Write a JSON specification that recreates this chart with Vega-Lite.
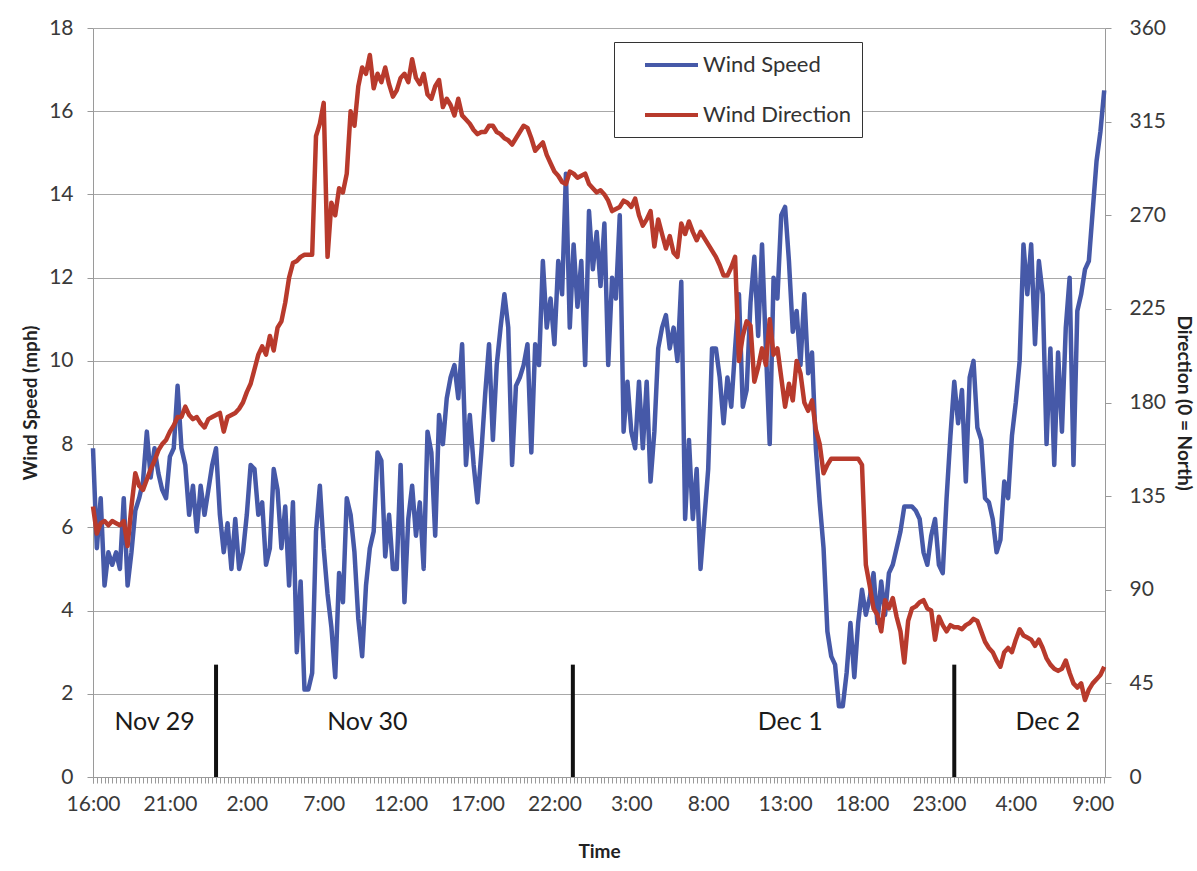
{
  "$schema": "https://vega.github.io/schema/vega-lite/v6.json",
  "width": 1012,
  "height": 749,
  "autosize": "none",
  "padding": {"left": 93, "top": 28, "right": 92, "bottom": 94},
  "background": "white",
  "config": {
    "font": "Lato",
    "view": {"stroke": null},
    "axis": {
      "labelFont": "Lato", "labelFontSize": 21, "labelColor": "#3a3a3a",
      "titleFont": "Lato", "titleFontWeight": "bold", "titleFontSize": 19, "titleColor": "#222222",
      "domainColor": "#9a9a9a", "tickColor": "#9a9a9a", "gridColor": "#a8a8a8",
      "domainWidth": 1, "tickWidth": 1, "gridWidth": 1
    },
    "legend": {
      "orient": "none", "legendX": 521, "legendY": 14,
      "strokeColor": "#333333", "fillColor": "white", "padding": 11,
      "labelFont": "Lato", "labelFontSize": 22, "labelColor": "#333333",
      "symbolStrokeWidth": 4, "symbolSize": 400, "symbolType": "M0.8,0H6.1",
      "labelOffset": 54, "rowPadding": 27
    }
  },
  "datasets": {
    "wind": [
{"time":"2009-11-29T16:00","speed":7.9,"direction":130},
{"time":"2009-11-29T16:15","speed":5.5,"direction":117},
{"time":"2009-11-29T16:30","speed":6.7,"direction":122},
{"time":"2009-11-29T16:45","speed":4.6,"direction":123},
{"time":"2009-11-29T17:00","speed":5.4,"direction":121},
{"time":"2009-11-29T17:15","speed":5.1,"direction":123},
{"time":"2009-11-29T17:30","speed":5.4,"direction":122},
{"time":"2009-11-29T17:45","speed":5.0,"direction":121},
{"time":"2009-11-29T18:00","speed":6.7,"direction":123},
{"time":"2009-11-29T18:15","speed":4.6,"direction":111},
{"time":"2009-11-29T18:30","speed":5.4,"direction":130},
{"time":"2009-11-29T18:45","speed":6.4,"direction":146},
{"time":"2009-11-29T19:00","speed":6.7,"direction":140},
{"time":"2009-11-29T19:15","speed":7.1,"direction":138},
{"time":"2009-11-29T19:30","speed":8.3,"direction":143},
{"time":"2009-11-29T19:45","speed":7.2,"direction":148},
{"time":"2009-11-29T20:00","speed":7.9,"direction":152},
{"time":"2009-11-29T20:15","speed":7.3,"direction":157},
{"time":"2009-11-29T20:30","speed":6.9,"direction":160},
{"time":"2009-11-29T20:45","speed":6.7,"direction":162},
{"time":"2009-11-29T21:00","speed":7.7,"direction":166},
{"time":"2009-11-29T21:15","speed":7.9,"direction":169},
{"time":"2009-11-29T21:30","speed":9.4,"direction":173},
{"time":"2009-11-29T21:45","speed":7.9,"direction":173},
{"time":"2009-11-29T22:00","speed":7.5,"direction":178},
{"time":"2009-11-29T22:15","speed":6.3,"direction":174},
{"time":"2009-11-29T22:30","speed":7.0,"direction":172},
{"time":"2009-11-29T22:45","speed":5.9,"direction":173},
{"time":"2009-11-29T23:00","speed":7.0,"direction":170},
{"time":"2009-11-29T23:15","speed":6.3,"direction":168},
{"time":"2009-11-29T23:30","speed":6.9,"direction":172},
{"time":"2009-11-29T23:45","speed":7.5,"direction":173},
{"time":"2009-11-30T00:00","speed":7.9,"direction":174},
{"time":"2009-11-30T00:15","speed":6.3,"direction":175},
{"time":"2009-11-30T00:30","speed":5.4,"direction":166},
{"time":"2009-11-30T00:45","speed":6.1,"direction":173},
{"time":"2009-11-30T01:00","speed":5.0,"direction":174},
{"time":"2009-11-30T01:15","speed":6.2,"direction":175},
{"time":"2009-11-30T01:30","speed":5.0,"direction":177},
{"time":"2009-11-30T01:45","speed":5.4,"direction":180},
{"time":"2009-11-30T02:00","speed":6.3,"direction":185},
{"time":"2009-11-30T02:15","speed":7.5,"direction":189},
{"time":"2009-11-30T02:30","speed":7.4,"direction":196},
{"time":"2009-11-30T02:45","speed":6.3,"direction":203},
{"time":"2009-11-30T03:00","speed":6.6,"direction":207},
{"time":"2009-11-30T03:15","speed":5.1,"direction":203},
{"time":"2009-11-30T03:30","speed":5.5,"direction":212},
{"time":"2009-11-30T03:45","speed":7.4,"direction":205},
{"time":"2009-11-30T04:00","speed":6.9,"direction":216},
{"time":"2009-11-30T04:15","speed":5.5,"direction":219},
{"time":"2009-11-30T04:30","speed":6.5,"direction":228},
{"time":"2009-11-30T04:45","speed":4.6,"direction":240},
{"time":"2009-11-30T05:00","speed":6.6,"direction":247},
{"time":"2009-11-30T05:15","speed":3.0,"direction":248},
{"time":"2009-11-30T05:30","speed":4.7,"direction":250},
{"time":"2009-11-30T05:45","speed":2.1,"direction":251},
{"time":"2009-11-30T06:00","speed":2.1,"direction":251},
{"time":"2009-11-30T06:15","speed":2.5,"direction":251},
{"time":"2009-11-30T06:30","speed":5.9,"direction":308},
{"time":"2009-11-30T06:45","speed":7.0,"direction":314},
{"time":"2009-11-30T07:00","speed":5.5,"direction":324},
{"time":"2009-11-30T07:15","speed":4.4,"direction":250},
{"time":"2009-11-30T07:30","speed":3.6,"direction":276},
{"time":"2009-11-30T07:45","speed":2.4,"direction":270},
{"time":"2009-11-30T08:00","speed":4.9,"direction":283},
{"time":"2009-11-30T08:15","speed":4.2,"direction":281},
{"time":"2009-11-30T08:30","speed":6.7,"direction":290},
{"time":"2009-11-30T08:45","speed":6.3,"direction":320},
{"time":"2009-11-30T09:00","speed":5.4,"direction":313},
{"time":"2009-11-30T09:15","speed":3.8,"direction":332},
{"time":"2009-11-30T09:30","speed":2.9,"direction":341},
{"time":"2009-11-30T09:45","speed":4.6,"direction":338},
{"time":"2009-11-30T10:00","speed":5.5,"direction":347},
{"time":"2009-11-30T10:15","speed":5.9,"direction":331},
{"time":"2009-11-30T10:30","speed":7.8,"direction":338},
{"time":"2009-11-30T10:45","speed":7.6,"direction":334},
{"time":"2009-11-30T11:00","speed":5.3,"direction":341},
{"time":"2009-11-30T11:15","speed":6.3,"direction":333},
{"time":"2009-11-30T11:30","speed":5.0,"direction":327},
{"time":"2009-11-30T11:45","speed":5.0,"direction":330},
{"time":"2009-11-30T12:00","speed":7.5,"direction":336},
{"time":"2009-11-30T12:15","speed":4.2,"direction":338},
{"time":"2009-11-30T12:30","speed":6.2,"direction":334},
{"time":"2009-11-30T12:45","speed":7.0,"direction":345},
{"time":"2009-11-30T13:00","speed":5.8,"direction":336},
{"time":"2009-11-30T13:15","speed":6.6,"direction":333},
{"time":"2009-11-30T13:30","speed":5.0,"direction":338},
{"time":"2009-11-30T13:45","speed":8.3,"direction":328},
{"time":"2009-11-30T14:00","speed":7.8,"direction":326},
{"time":"2009-11-30T14:15","speed":5.8,"direction":332},
{"time":"2009-11-30T14:30","speed":8.7,"direction":335},
{"time":"2009-11-30T14:45","speed":8.0,"direction":322},
{"time":"2009-11-30T15:00","speed":9.1,"direction":326},
{"time":"2009-11-30T15:15","speed":9.6,"direction":323},
{"time":"2009-11-30T15:30","speed":9.9,"direction":318},
{"time":"2009-11-30T15:45","speed":9.1,"direction":326},
{"time":"2009-11-30T16:00","speed":10.4,"direction":318},
{"time":"2009-11-30T16:15","speed":7.5,"direction":316},
{"time":"2009-11-30T16:30","speed":8.7,"direction":314},
{"time":"2009-11-30T16:45","speed":7.5,"direction":311},
{"time":"2009-11-30T17:00","speed":6.6,"direction":309},
{"time":"2009-11-30T17:15","speed":7.8,"direction":310},
{"time":"2009-11-30T17:30","speed":9.2,"direction":310},
{"time":"2009-11-30T17:45","speed":10.4,"direction":313},
{"time":"2009-11-30T18:00","speed":8.1,"direction":313},
{"time":"2009-11-30T18:15","speed":9.9,"direction":310},
{"time":"2009-11-30T18:30","speed":10.8,"direction":309},
{"time":"2009-11-30T18:45","speed":11.6,"direction":307},
{"time":"2009-11-30T19:00","speed":10.8,"direction":306},
{"time":"2009-11-30T19:15","speed":7.5,"direction":304},
{"time":"2009-11-30T19:30","speed":9.4,"direction":307},
{"time":"2009-11-30T19:45","speed":9.6,"direction":310},
{"time":"2009-11-30T20:00","speed":9.9,"direction":313},
{"time":"2009-11-30T20:15","speed":10.4,"direction":312},
{"time":"2009-11-30T20:30","speed":7.8,"direction":307},
{"time":"2009-11-30T20:45","speed":10.4,"direction":301},
{"time":"2009-11-30T21:00","speed":9.9,"direction":303},
{"time":"2009-11-30T21:15","speed":12.4,"direction":305},
{"time":"2009-11-30T21:30","speed":10.8,"direction":299},
{"time":"2009-11-30T21:45","speed":11.5,"direction":295},
{"time":"2009-11-30T22:00","speed":10.4,"direction":291},
{"time":"2009-11-30T22:15","speed":12.4,"direction":289},
{"time":"2009-11-30T22:30","speed":11.6,"direction":286},
{"time":"2009-11-30T22:45","speed":14.5,"direction":285},
{"time":"2009-11-30T23:00","speed":10.8,"direction":291},
{"time":"2009-11-30T23:15","speed":12.8,"direction":290},
{"time":"2009-11-30T23:30","speed":11.3,"direction":288},
{"time":"2009-11-30T23:45","speed":12.4,"direction":289},
{"time":"2009-12-01T00:00","speed":9.9,"direction":290},
{"time":"2009-12-01T00:15","speed":13.6,"direction":285},
{"time":"2009-12-01T00:30","speed":12.2,"direction":283},
{"time":"2009-12-01T00:45","speed":13.1,"direction":281},
{"time":"2009-12-01T01:00","speed":11.8,"direction":282},
{"time":"2009-12-01T01:15","speed":13.3,"direction":280},
{"time":"2009-12-01T01:30","speed":9.9,"direction":277},
{"time":"2009-12-01T01:45","speed":12.0,"direction":272},
{"time":"2009-12-01T02:00","speed":11.5,"direction":273},
{"time":"2009-12-01T02:15","speed":13.5,"direction":274},
{"time":"2009-12-01T02:30","speed":8.3,"direction":277},
{"time":"2009-12-01T02:45","speed":9.5,"direction":276},
{"time":"2009-12-01T03:00","speed":8.3,"direction":274},
{"time":"2009-12-01T03:15","speed":7.9,"direction":278},
{"time":"2009-12-01T03:30","speed":9.5,"direction":270},
{"time":"2009-12-01T03:45","speed":7.9,"direction":265},
{"time":"2009-12-01T04:00","speed":9.5,"direction":268},
{"time":"2009-12-01T04:15","speed":7.1,"direction":272},
{"time":"2009-12-01T04:30","speed":8.3,"direction":255},
{"time":"2009-12-01T04:45","speed":10.3,"direction":268},
{"time":"2009-12-01T05:00","speed":10.8,"direction":261},
{"time":"2009-12-01T05:15","speed":11.1,"direction":254},
{"time":"2009-12-01T05:30","speed":10.3,"direction":260},
{"time":"2009-12-01T05:45","speed":10.8,"direction":252},
{"time":"2009-12-01T06:00","speed":10.0,"direction":250},
{"time":"2009-12-01T06:15","speed":11.9,"direction":266},
{"time":"2009-12-01T06:30","speed":6.2,"direction":261},
{"time":"2009-12-01T06:45","speed":8.1,"direction":267},
{"time":"2009-12-01T07:00","speed":6.2,"direction":262},
{"time":"2009-12-01T07:15","speed":7.4,"direction":258},
{"time":"2009-12-01T07:30","speed":5.0,"direction":262},
{"time":"2009-12-01T07:45","speed":6.2,"direction":259},
{"time":"2009-12-01T08:00","speed":7.4,"direction":256},
{"time":"2009-12-01T08:15","speed":10.3,"direction":253},
{"time":"2009-12-01T08:30","speed":10.3,"direction":250},
{"time":"2009-12-01T08:45","speed":9.6,"direction":246},
{"time":"2009-12-01T09:00","speed":8.5,"direction":241},
{"time":"2009-12-01T09:15","speed":9.6,"direction":241},
{"time":"2009-12-01T09:30","speed":8.9,"direction":245},
{"time":"2009-12-01T09:45","speed":10.3,"direction":250},
{"time":"2009-12-01T10:00","speed":11.6,"direction":200},
{"time":"2009-12-01T10:15","speed":8.9,"direction":212},
{"time":"2009-12-01T10:30","speed":9.3,"direction":219},
{"time":"2009-12-01T10:45","speed":11.4,"direction":217},
{"time":"2009-12-01T11:00","speed":12.5,"direction":190},
{"time":"2009-12-01T11:15","speed":10.6,"direction":197},
{"time":"2009-12-01T11:30","speed":12.8,"direction":206},
{"time":"2009-12-01T11:45","speed":10.3,"direction":198},
{"time":"2009-12-01T12:00","speed":8.0,"direction":220},
{"time":"2009-12-01T12:15","speed":12.0,"direction":203},
{"time":"2009-12-01T12:30","speed":11.5,"direction":206},
{"time":"2009-12-01T12:45","speed":13.5,"direction":192},
{"time":"2009-12-01T13:00","speed":13.7,"direction":178},
{"time":"2009-12-01T13:15","speed":12.4,"direction":189},
{"time":"2009-12-01T13:30","speed":10.7,"direction":181},
{"time":"2009-12-01T13:45","speed":11.2,"direction":200},
{"time":"2009-12-01T14:00","speed":9.9,"direction":194},
{"time":"2009-12-01T14:15","speed":11.6,"direction":180},
{"time":"2009-12-01T14:30","speed":9.7,"direction":176},
{"time":"2009-12-01T14:45","speed":10.2,"direction":181},
{"time":"2009-12-01T15:00","speed":7.9,"direction":167},
{"time":"2009-12-01T15:15","speed":6.6,"direction":160},
{"time":"2009-12-01T15:30","speed":5.5,"direction":146},
{"time":"2009-12-01T15:45","speed":3.5,"direction":150},
{"time":"2009-12-01T16:00","speed":2.9,"direction":153},
{"time":"2009-12-01T16:15","speed":2.7,"direction":153},
{"time":"2009-12-01T16:30","speed":1.7,"direction":153},
{"time":"2009-12-01T16:45","speed":1.7,"direction":153},
{"time":"2009-12-01T17:00","speed":2.5,"direction":153},
{"time":"2009-12-01T17:15","speed":3.7,"direction":153},
{"time":"2009-12-01T17:30","speed":2.4,"direction":153},
{"time":"2009-12-01T17:45","speed":3.7,"direction":153},
{"time":"2009-12-01T18:00","speed":4.5,"direction":150},
{"time":"2009-12-01T18:15","speed":3.9,"direction":102},
{"time":"2009-12-01T18:30","speed":4.3,"direction":92},
{"time":"2009-12-01T18:45","speed":4.9,"direction":81},
{"time":"2009-12-01T19:00","speed":3.7,"direction":78},
{"time":"2009-12-01T19:15","speed":4.7,"direction":70},
{"time":"2009-12-01T19:30","speed":3.9,"direction":85},
{"time":"2009-12-01T19:45","speed":4.9,"direction":81},
{"time":"2009-12-01T20:00","speed":5.1,"direction":86},
{"time":"2009-12-01T20:15","speed":5.5,"direction":77},
{"time":"2009-12-01T20:30","speed":5.9,"direction":70},
{"time":"2009-12-01T20:45","speed":6.5,"direction":55},
{"time":"2009-12-01T21:00","speed":6.5,"direction":75},
{"time":"2009-12-01T21:15","speed":6.5,"direction":81},
{"time":"2009-12-01T21:30","speed":6.4,"direction":82},
{"time":"2009-12-01T21:45","speed":6.2,"direction":84},
{"time":"2009-12-01T22:00","speed":5.4,"direction":85},
{"time":"2009-12-01T22:15","speed":5.1,"direction":81},
{"time":"2009-12-01T22:30","speed":5.8,"direction":80},
{"time":"2009-12-01T22:45","speed":6.2,"direction":66},
{"time":"2009-12-01T23:00","speed":5.1,"direction":77},
{"time":"2009-12-01T23:15","speed":4.9,"direction":73},
{"time":"2009-12-01T23:30","speed":6.7,"direction":70},
{"time":"2009-12-01T23:45","speed":8.2,"direction":73},
{"time":"2009-12-02T00:00","speed":9.5,"direction":72},
{"time":"2009-12-02T00:15","speed":8.5,"direction":72},
{"time":"2009-12-02T00:30","speed":9.3,"direction":71},
{"time":"2009-12-02T00:45","speed":7.1,"direction":73},
{"time":"2009-12-02T01:00","speed":9.6,"direction":74},
{"time":"2009-12-02T01:15","speed":10.0,"direction":76},
{"time":"2009-12-02T01:30","speed":8.4,"direction":75},
{"time":"2009-12-02T01:45","speed":8.1,"direction":70},
{"time":"2009-12-02T02:00","speed":6.7,"direction":65},
{"time":"2009-12-02T02:15","speed":6.6,"direction":62},
{"time":"2009-12-02T02:30","speed":6.2,"direction":60},
{"time":"2009-12-02T02:45","speed":5.4,"direction":56},
{"time":"2009-12-02T03:00","speed":5.7,"direction":53},
{"time":"2009-12-02T03:15","speed":7.1,"direction":60},
{"time":"2009-12-02T03:30","speed":6.7,"direction":62},
{"time":"2009-12-02T03:45","speed":8.2,"direction":60},
{"time":"2009-12-02T04:00","speed":9.0,"direction":66},
{"time":"2009-12-02T04:15","speed":10.0,"direction":71},
{"time":"2009-12-02T04:30","speed":12.8,"direction":68},
{"time":"2009-12-02T04:45","speed":11.6,"direction":67},
{"time":"2009-12-02T05:00","speed":12.8,"direction":66},
{"time":"2009-12-02T05:15","speed":10.4,"direction":63},
{"time":"2009-12-02T05:30","speed":12.4,"direction":66},
{"time":"2009-12-02T05:45","speed":11.6,"direction":62},
{"time":"2009-12-02T06:00","speed":8.0,"direction":57},
{"time":"2009-12-02T06:15","speed":10.3,"direction":54},
{"time":"2009-12-02T06:30","speed":7.5,"direction":52},
{"time":"2009-12-02T06:45","speed":10.2,"direction":51},
{"time":"2009-12-02T07:00","speed":8.3,"direction":52},
{"time":"2009-12-02T07:15","speed":10.8,"direction":56},
{"time":"2009-12-02T07:30","speed":12.0,"direction":50},
{"time":"2009-12-02T07:45","speed":7.5,"direction":45},
{"time":"2009-12-02T08:00","speed":11.2,"direction":43},
{"time":"2009-12-02T08:15","speed":11.6,"direction":45},
{"time":"2009-12-02T08:30","speed":12.2,"direction":37},
{"time":"2009-12-02T08:45","speed":12.4,"direction":42},
{"time":"2009-12-02T09:00","speed":13.6,"direction":45},
{"time":"2009-12-02T09:15","speed":14.8,"direction":47},
{"time":"2009-12-02T09:30","speed":15.5,"direction":49},
{"time":"2009-12-02T09:45","speed":16.5,"direction":53}
    ],
    "markers": [
      {"time": "2009-11-30T00:00", "bottom": 0, "top": 54},
      {"time": "2009-11-30T23:12", "bottom": 0, "top": 54},
      {"time": "2009-12-02T00:00", "bottom": 0, "top": 54}
    ],
    "days": [
      {"time": "2009-11-29T20:00", "level": 26.4, "label": "Nov 29"},
      {"time": "2009-11-30T09:50", "level": 26.4, "label": "Nov 30"},
      {"time": "2009-12-01T13:20", "level": 26.4, "label": "Dec 1"},
      {"time": "2009-12-02T06:05", "level": 26.4, "label": "Dec 2"}
    ]
  },
  "layer": [
    {
      "data": {"name": "wind"},
      "mark": {"type": "line", "strokeWidth": 4.5, "strokeJoin": "round"},
      "encoding": {
        "x": {
          "field": "time", "type": "temporal",
          "scale": {"domain": [{"year": 2009, "month": 11, "date": 29, "hours": 16, "minutes": 0}, {"year": 2009, "month": 12, "date": 2, "hours": 9, "minutes": 48}]},
          "axis": {
            "title": "Time", "grid": false, "format": "%-H:%M", "orient": "bottom",
            "values": [
              {"year": 2009, "month": 11, "date": 29, "hours": 16},
              {"year": 2009, "month": 11, "date": 29, "hours": 21},
              {"year": 2009, "month": 11, "date": 30, "hours": 2},
              {"year": 2009, "month": 11, "date": 30, "hours": 7},
              {"year": 2009, "month": 11, "date": 30, "hours": 12},
              {"year": 2009, "month": 11, "date": 30, "hours": 17},
              {"year": 2009, "month": 11, "date": 30, "hours": 22},
              {"year": 2009, "month": 12, "date": 1, "hours": 3},
              {"year": 2009, "month": 12, "date": 1, "hours": 8},
              {"year": 2009, "month": 12, "date": 1, "hours": 13},
              {"year": 2009, "month": 12, "date": 1, "hours": 18},
              {"year": 2009, "month": 12, "date": 1, "hours": 23},
              {"year": 2009, "month": 12, "date": 2, "hours": 4},
              {"year": 2009, "month": 12, "date": 2, "hours": 9}
            ],
            "labelOverlap": false, "labelFlush": false,
            "tickSize": 6, "labelPadding": 10, "titlePadding": 28
          }
        },
        "y": {
          "field": "speed", "type": "quantitative",
          "scale": {"domain": [0, 18], "nice": false},
          "axis": {
            "title": "Wind Speed (mph)", "orient": "left",
            "values": [0, 2, 4, 6, 8, 10, 12, 14, 16, 18],
            "grid": true, "tickSize": 6, "labelPadding": 14, "titlePadding": 8
          }
        },
        "color": {
          "datum": "Wind Speed", "type": "nominal",
          "scale": {"domain": ["Wind Speed", "Wind Direction"], "range": ["#4659a8", "#b83a2c"]},
          "legend": {"title": null}
        }
      }
    },
    {
      "layer": [
        {
          "data": {"name": "wind"},
          "mark": {"type": "line", "strokeWidth": 4.5, "strokeJoin": "round"},
          "encoding": {
            "x": {"field": "time", "type": "temporal",
              "scale": {"domain": [{"year": 2009, "month": 11, "date": 29, "hours": 16, "minutes": 0}, {"year": 2009, "month": 12, "date": 2, "hours": 9, "minutes": 48}]},
              "axis": {"orient": "bottom", "title": null, "labels": false, "domain": false, "grid": false, "tickCount": 200, "tickSize": 6}},
            "y": {
              "field": "direction", "type": "quantitative",
              "scale": {"domain": [0, 360], "nice": false},
              "axis": {
                "title": "Direction (0 = North)", "orient": "right",
                "values": [0, 45, 90, 135, 180, 225, 270, 315, 360],
                "grid": false, "tickSize": 6, "labelPadding": 18, "titlePadding": 8
              }
            },
            "color": {"datum": "Wind Direction", "type": "nominal"}
          }
        },
        {
          "data": {"name": "markers"},
          "mark": {"type": "rule", "strokeWidth": 4, "color": "#111111"},
          "encoding": {
            "x": {"field": "time", "type": "temporal",
              "scale": {"domain": [{"year": 2009, "month": 11, "date": 29, "hours": 16, "minutes": 0}, {"year": 2009, "month": 12, "date": 2, "hours": 9, "minutes": 48}]},
              "axis": {"orient": "bottom", "title": null, "labels": false, "domain": false, "grid": false, "tickCount": 200, "tickSize": 6}},
            "y": {"field": "bottom", "type": "quantitative", "scale": {"domain": [0, 360], "nice": false},
              "axis": {
                "title": "Direction (0 = North)", "orient": "right",
                "values": [0, 45, 90, 135, 180, 225, 270, 315, 360],
                "grid": false, "tickSize": 6, "labelPadding": 18, "titlePadding": 8
              }},
            "y2": {"field": "top"}
          }
        },
        {
          "data": {"name": "days"},
          "mark": {"type": "text", "font": "Lato", "fontSize": 25, "color": "#1a1a1a", "align": "center", "baseline": "middle"},
          "encoding": {
            "x": {"field": "time", "type": "temporal",
              "scale": {"domain": [{"year": 2009, "month": 11, "date": 29, "hours": 16, "minutes": 0}, {"year": 2009, "month": 12, "date": 2, "hours": 9, "minutes": 48}]},
              "axis": {"orient": "bottom", "title": null, "labels": false, "domain": false, "grid": false, "tickCount": 200, "tickSize": 6}},
            "y": {"field": "level", "type": "quantitative", "scale": {"domain": [0, 360], "nice": false},
              "axis": {
                "title": "Direction (0 = North)", "orient": "right",
                "values": [0, 45, 90, 135, 180, 225, 270, 315, 360],
                "grid": false, "tickSize": 6, "labelPadding": 18, "titlePadding": 8
              }},
            "text": {"field": "label"}
          }
        }
      ]
    }
  ],
  "resolve": {"scale": {"y": "independent"}, "axis": {"x": "independent"}}
}
